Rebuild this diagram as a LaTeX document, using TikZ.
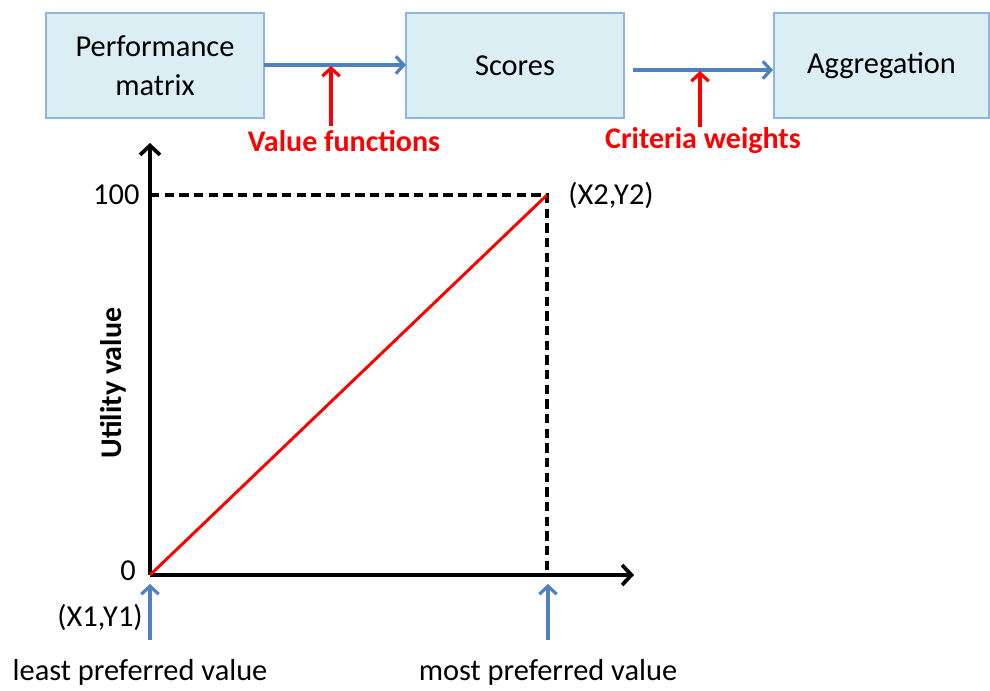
\documentclass[tikz,border=0pt]{standalone}
\usepackage{fontspec}
\setmainfont{Carlito}
\usetikzlibrary{arrows.meta}
\definecolor{boxfill}{HTML}{DBEEF4}
\definecolor{boxline}{HTML}{8EB4E3}
\definecolor{flow}{HTML}{4F81BD}
\definecolor{redline}{HTML}{FF0000}
\begin{document}
\begin{tikzpicture}[x=0.75pt,y=-0.75pt,
  font=\fontsize{22.8}{28}\selectfont,
  stepbox/.style={draw=boxline, fill=boxfill, line width=1.5pt, inner sep=0pt,
    minimum width=163.5pt, minimum height=78.75pt, align=center},
  flowarrow/.style={draw=flow, line width=2.4pt, -{Straight Barb[length=6pt,width=13pt]}},
  redarrow/.style={draw=redline, line width=2.4pt, -{Straight Barb[length=6pt,width=13pt]}},
  redlabel/.style={text=redline, font=\fontsize{22.5}{28}\selectfont\bfseries},
  axisline/.style={draw=black, line width=2.8pt, -{Straight Barb[length=7pt,width=15pt]}},
  guide/.style={draw=black, line width=2.4pt, dash pattern=on 7pt off 4pt},
  lbl/.style={inner sep=1pt}]
\useasboundingbox (0,0) rectangle (990,691);

% top flow
\node[stepbox] (pm) at (155,65.5) {Performance\\[1pt]matrix};
\node[stepbox] (sc) at (515,65.5) {Scores};
\node[stepbox, minimum width=161.25pt] (ag) at (881.5,65.5) {Aggregation};

\coordinate (a1s) at (264,65);
\coordinate (a1e) at (406,65);
\draw[flowarrow] (a1s) -- (a1e);
\coordinate (a2s) at (633,70);
\coordinate (a2e) at (773,70);
\draw[flowarrow] (a2s) -- (a2e);

\node[redlabel] (vf) at (344,141) {Value functions};
\node[redlabel] (cw) at (703,141) {Criteria weights};
\coordinate (r1s) at (331,126);
\coordinate (r1e) at (331,66);
\coordinate (r2s) at (700,127);
\coordinate (r2e) at (700,71);
\draw[redarrow] (r1s) -- (r1e);
\draw[redarrow] (r2s) -- (r2e);

% graph
\coordinate (o) at (150,575);
\coordinate (yt) at (150,143);
\coordinate (xt) at (634,575);
\coordinate (p2) at (547,195);
\coordinate (y100) at (150,195);
\coordinate (xmax) at (547,575);

\draw[guide] (y100) -- (p2) -- (xmax);
\draw[axisline] (o) -- (yt);
\draw[axisline] (o) -- (xt);
\draw[draw=redline, line width=2.2pt] (o) -- (p2);

\node[lbl, anchor=east] (l100) at (141,195) {100};
\node[lbl] (l0) at (128,571) {0};
\node[lbl] (lx2) at (611,195) {(X2,Y2)};
\node[lbl, rotate=90, font=\fontsize{22.5}{28}\selectfont\bfseries] (uv) at (113,383) {Utility value};

\coordinate (b1s) at (150,640);
\coordinate (b1e) at (150,584);
\coordinate (b2s) at (548,640);
\coordinate (b2e) at (548,584);
\draw[flowarrow] (b1s) -- (b1e);
\draw[flowarrow] (b2s) -- (b2e);

\node[lbl] (lx1) at (100,617) {(X1,Y1)};
\node[lbl] (least) at (140,672) {least preferred value};
\node[lbl] (most) at (548,672) {most preferred value};
\end{tikzpicture}
\end{document}
